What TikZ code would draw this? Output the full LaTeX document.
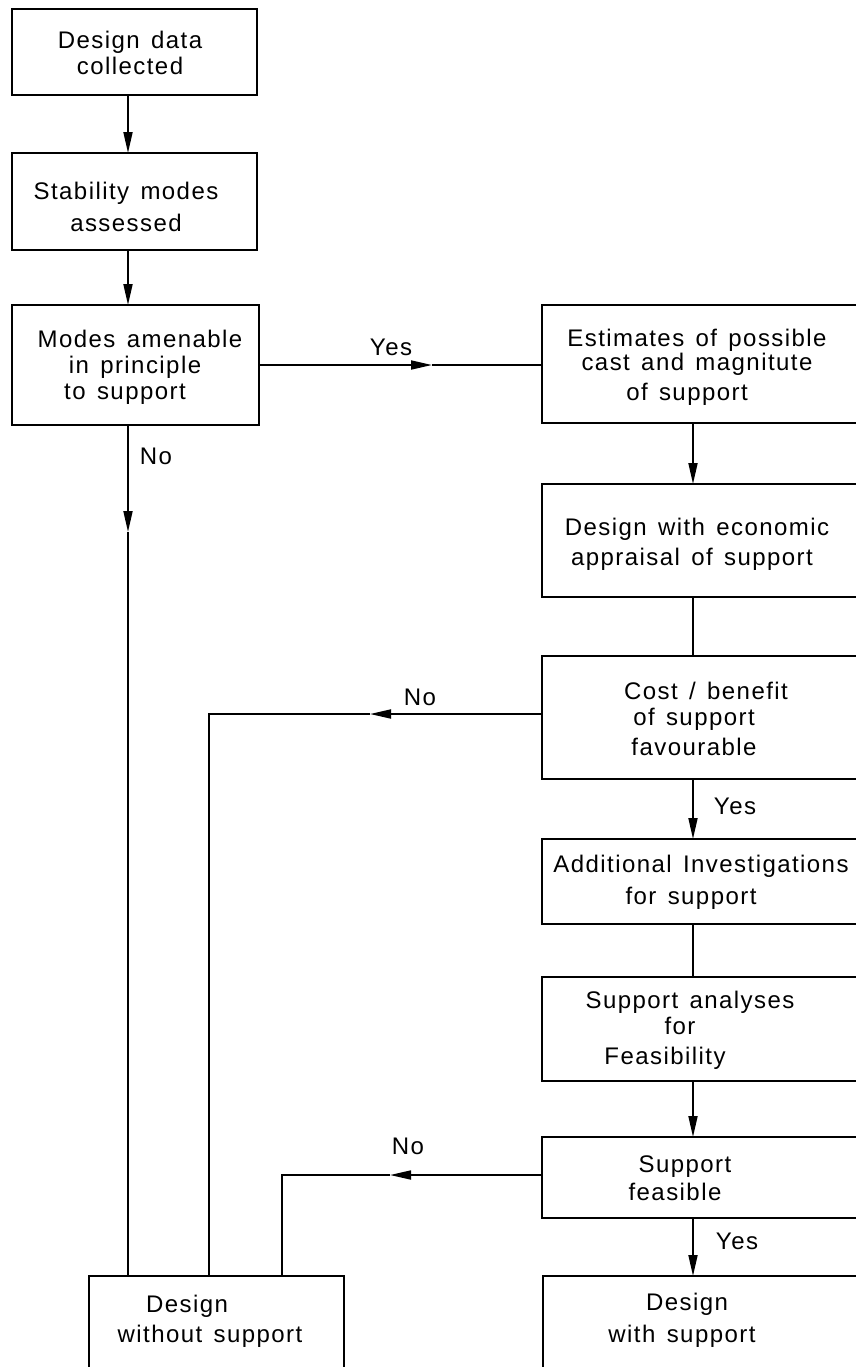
\documentclass[tikz,border=0pt]{standalone}
\usepackage{fontspec}
\setmainfont{Liberation Sans}[LetterSpace=6,WordSpace=1.4]
\usetikzlibrary{arrows.meta,calc}
\begin{document}
\begin{tikzpicture}[x=0.5pt,y=-0.5pt,
  box/.style={draw,line width=1pt,inner sep=0pt,outer sep=0pt,anchor=north west,rectangle},
  txt/.style={align=center,inner sep=0pt,font=\fontsize{12}{14}\selectfont},
  lbl/.style={inner sep=0pt,font=\fontsize{12}{14}\selectfont},
  con/.style={line width=0.9pt},
  arr/.style={line width=0.9pt,-{Triangle[length=10.5pt,width=4.5pt]}}]
\useasboundingbox (0,0) rectangle (856,1367);
\clip (0,0) rectangle (856,1367);
% boxes
\node[box,minimum width=122.5pt,minimum height=43pt] (b1) at (12,9) {};
\node[box,minimum width=122.5pt,minimum height=48.5pt] (b2) at (12,153) {};
\node[box,minimum width=123.5pt,minimum height=60pt] (b3) at (12,305) {};
\node[box,minimum width=170pt,minimum height=59pt] (b4) at (542,305) {};
\node[box,minimum width=170pt,minimum height=56.5pt] (b5) at (542,484) {};
\node[box,minimum width=170pt,minimum height=61.5pt] (b6) at (542,656) {};
\node[box,minimum width=170pt,minimum height=42.5pt] (b7) at (542,839) {};
\node[box,minimum width=170pt,minimum height=52pt] (b8) at (542,977) {};
\node[box,minimum width=170pt,minimum height=40.5pt] (b9) at (542,1137) {};
\node[box,minimum width=170pt,minimum height=75pt] (b10) at (543,1276) {};
\node[box,minimum width=127.5pt,minimum height=75pt] (b11) at (89,1276) {};
% texts
\node[txt] (t1) at (130,53) {Design data\\[-1pt]collected};
\node[txt] (t2) at (126,207) {Stability modes\\[2pt]assessed};
\node[txt] (t3) at (135,367) {\hspace*{5pt}Modes amenable\\[-1pt]in principle\\[-1pt]to support\hspace*{10pt}};
\node[txt] (t4) at (697,367) {Estimates of possible\\[-2pt]cast and magnitute\\[1pt]of support\hspace*{10pt}};
\node[txt] (t5) at (697,544) {Design with economic\\[1pt]appraisal of support\hspace*{5pt}};
\node[txt] (t6) at (694,719) {\hspace*{12pt}Cost / benefit\\[-1pt]of support\\[1pt]favourable};
\node[txt] (t7) at (701,882) {Additional Investigations\\[2pt]for support\hspace*{10pt}};
\node[txt] (t8) at (680,1030) {\hspace*{10pt}Support analyses\\[-1pt]for\\[1pt]Feasibility\hspace*{15pt}};
\node[txt] (t9) at (675,1178) {\hspace*{10pt}Support\\[0pt]feasible};
\node[txt] (t10) at (682,1320) {\hspace*{5pt}Design\\[2pt]with support};
\node[txt] (t11) at (210,1321) {Design\hspace*{23pt}\\[1pt]without support};
% labels
\node[lbl] (y1) at (391,347) {Yes};
\node[lbl] (n1) at (156,456) {No};
\node[lbl] (n2) at (420,697) {No};
\node[lbl] (y2) at (735,806) {Yes};
\node[lbl] (n3) at (408,1146) {No};
\node[lbl] (y3) at (737,1241) {Yes};
% helper coordinates
\coordinate (cl) at (128,0);
\coordinate (cr) at (693,0);
\coordinate (ya) at (432,365);
\coordinate (na) at (128,532);
\coordinate (k1) at (209,714);
\coordinate (a1) at (370,714);
\coordinate (k2) at (282,1175);
\coordinate (a2) at (390,1175);
% connectors
\draw[arr] (b1.south -| cl) -- (b2.north -| cl);
\draw[arr] (b2.south -| cl) -- (b3.north -| cl);
\draw[arr] (b3.east |- ya) -- (ya);
\draw[con] (ya) -- (b4.west |- ya);
\draw[arr] (b3.south -| cl) -- (na);
\draw[con] (na) -- (b11.north -| cl);
\draw[arr] (b4.south -| cr) -- (b5.north -| cr);
\draw[con] (b5.south -| cr) -- (b6.north -| cr);
\draw[arr] (b6.west |- k1) -- (a1);
\draw[con] (a1) -- (k1) -- (b11.north -| k1);
\draw[arr] (b6.south -| cr) -- (b7.north -| cr);
\draw[con] (b7.south -| cr) -- (b8.north -| cr);
\draw[arr] (b8.south -| cr) -- (b9.north -| cr);
\draw[arr] (b9.west |- k2) -- (a2);
\draw[con] (a2) -- (k2) -- (b11.north -| k2);
\draw[arr] (b9.south -| cr) -- (b10.north -| cr);
\end{tikzpicture}
\end{document}
